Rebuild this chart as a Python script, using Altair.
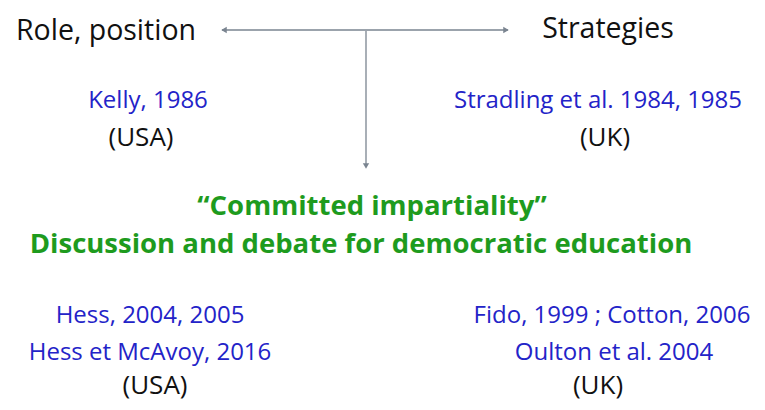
import altair as alt
import pandas as pd

# Text content of the diagram
texts = [
    "Role, position", "Strategies",
    "Kelly, 1986", "(USA)",
    "Stradling et al. 1984, 1985", "(UK)",
    "\u201cCommitted impartiality\u201d",
    "Discussion and debate for democratic education",
    "Hess, 2004, 2005", "Hess et McAvoy, 2016", "(USA)",
    "Fido, 1999 ; Cotton, 2006", "Oulton et al. 2004", "(UK)",
]
kinds = ["head", "head", "ref", "country", "ref", "country", "main", "main",
         "ref", "ref", "country", "ref", "ref", "country"]
# layout grid (slide pixel units; text centre x, baseline y)
pos_x = [106, 608, 148, 141, 598, 605, 372, 361, 150, 150, 155, 612, 614, 598]
pos_y = [40, 38, 108, 146, 108, 146, 215, 253, 323, 360, 394, 323, 360, 394]

W, H = 749, 394
xs = alt.Scale(domain=[8, 8 + W], range=[0, W])
ys = alt.Scale(domain=[8, 8 + H], range=[0, H])

df = pd.DataFrame({"t": texts, "k": kinds, "x": pos_x, "y": pos_y})

def text_layer(kind, size, color, weight="normal"):
    return alt.Chart(df).transform_filter(alt.datum.k == kind).mark_text(
        font="Open Sans", fontSize=size, color=color, fontWeight=weight,
        align="center", baseline="alphabetic"
    ).encode(
        x=alt.X("x:Q", scale=xs, axis=None),
        y=alt.Y("y:Q", scale=ys, axis=None),
        text="t:N",
    )

# arrows
seg = pd.DataFrame({"x1": [222, 366], "x2": [508, 366], "y1": [30, 31], "y2": [30, 166]})
rules = alt.Chart(seg).mark_rule(color="#7a8490", strokeWidth=1.3).encode(
    x=alt.X("x1:Q", scale=xs, axis=None), x2="x2:Q",
    y=alt.Y("y1:Q", scale=ys, axis=None), y2="y2:Q",
)
heads = pd.DataFrame({"x": [224, 506, 366], "y": [30, 30, 166],
                      "s": ["triangle-left", "triangle-right", "triangle-down"]})
heads_layer = alt.Chart(heads).mark_point(filled=True, color="#7a8490", size=40, opacity=1).encode(
    x=alt.X("x:Q", scale=xs, axis=None),
    y=alt.Y("y:Q", scale=ys, axis=None),
    shape=alt.Shape("s:N", scale=None, legend=None),
)

chart = alt.layer(
    rules, heads_layer,
    text_layer("head", 28.5, "#111111"),
    text_layer("ref", 24, "#2323c8"),
    text_layer("country", 26, "#111111"),
    text_layer("main", 27.5, "#1e9b1e", "bold"),
).properties(width=W, height=H, padding=0, autosize="none").configure_view(stroke=None)

chart.save("out.html", embed_options={"renderer": "svg", "actions": False})
